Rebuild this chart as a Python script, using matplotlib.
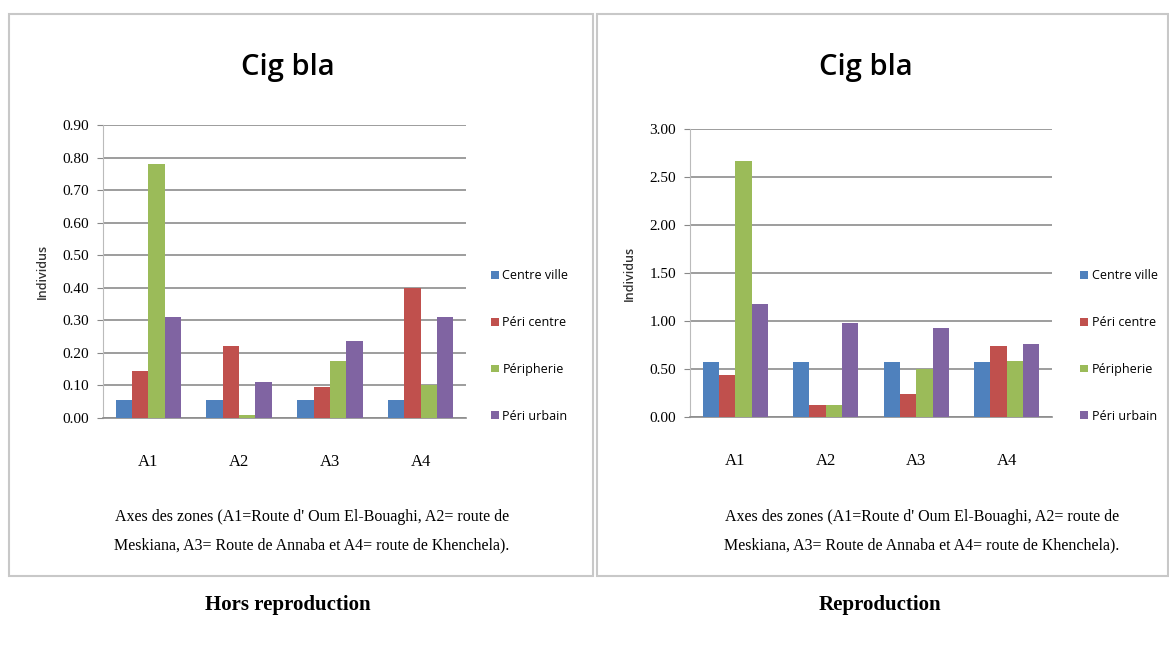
import matplotlib
matplotlib.use("Agg")
import matplotlib.pyplot as plt
import numpy as np
from matplotlib.patches import Rectangle

categories = ["A1", "A2", "A3", "A4"]
series_names = ["Centre ville", "Péri centre", "Péripherie", "Péri urbain"]
colors = ["#4F81BD", "#C0504D", "#9BBB59", "#8064A2"]

hors_centre_ville = [0.055, 0.055, 0.055, 0.055]
hors_peri_centre = [0.145, 0.22, 0.095, 0.40]
hors_peripherie = [0.78, 0.01, 0.175, 0.10]
hors_peri_urbain = [0.31, 0.11, 0.235, 0.31]

repro_centre_ville = [0.57, 0.57, 0.57, 0.57]
repro_peri_centre = [0.44, 0.12, 0.24, 0.74]
repro_peripherie = [2.67, 0.12, 0.50, 0.58]
repro_peri_urbain = [1.18, 0.98, 0.93, 0.76]

hors_ticks = [0.0, 0.1, 0.2, 0.3, 0.4, 0.5, 0.6, 0.7, 0.8, 0.9]
repro_ticks = [0.0, 0.5, 1.0, 1.5, 2.0, 2.5, 3.0]

title = "Cig bla"
ylabel = "Individus"
xlabel = "Axes des zones (A1=Route d' Oum El-Bouaghi, A2= route de\nMeskiana, A3= Route de Annaba et A4= route de Khenchela)."
captions = ["Hors reproduction", "Reproduction"]

W, H = 1169, 646
fig = plt.figure(figsize=(W / 100, H / 100), dpi=100)

def fx(px):
    return px / W

def fy(py):
    return 1 - py / H

# panel borders
for (x0, x1) in [(9, 593), (597, 1168)]:
    fig.add_artist(Rectangle((fx(x0), fy(576)), fx(x1 - x0), (576 - 14) / H,
                             transform=fig.transFigure, fill=False,
                             edgecolor="#c8c8c8", linewidth=1.5))

def panel(rect, data, ticks, title_x, legend_x, xlabel_xy, caption, cap_x, fmt):
    ax = fig.add_axes(rect)
    n = len(data)
    width = 0.18
    x = np.arange(len(categories))
    for i, (vals, c, name) in enumerate(zip(data, colors, series_names)):
        ax.bar(x + (i - (n - 1) / 2) * width, vals, width, color=c, label=name, zorder=3)
    ax.set_xlim(-0.5, len(categories) - 0.5)
    ax.set_ylim(ticks[0], ticks[-1])
    ax.set_yticks(ticks)
    ax.set_yticklabels([fmt.format(t) for t in ticks], family="Liberation Serif", fontsize=11)
    ax.set_xticks(x)
    ax.set_xticklabels(categories, family="Liberation Serif", fontsize=12)
    ax.tick_params(axis="x", length=0, pad=26)
    ax.tick_params(axis="y", length=4, color="#888888", pad=6)
    ax.grid(axis="y", color="#8c8c8c", linewidth=1.2, zorder=0)
    for s in ["top", "right"]:
        ax.spines[s].set_visible(False)
    ax.spines["left"].set_color("#bbbbbb")
    ax.spines["bottom"].set_color("#8c8c8c")
    ax.spines["bottom"].set_linewidth(1.2)
    ax.set_ylabel(ylabel, family="Open Sans", fontsize=9, labelpad=10,
                  color="#333333", fontweight="semibold")
    fig.text(fx(title_x), fy(68), title, family="Open Sans", fontsize=21,
             ha="center", va="center", fontweight="semibold")
    ax.legend(loc="center left", bbox_to_anchor=(fx(legend_x), fy(346)),
              bbox_transform=fig.transFigure, frameon=False,
              prop={"family": "Open Sans", "size": 9}, handlelength=0.6,
              handleheight=0.6, handletextpad=0.3, labelspacing=2.7)
    fig.text(fx(xlabel_xy[0]), fy(xlabel_xy[1]), xlabel, family="Liberation Serif",
             fontsize=11.5, ha="center", va="center", linespacing=2.0)
    fig.text(fx(cap_x), fy(605), caption,
             family="Liberation Serif", fontsize=15, fontweight="bold",
             ha="center", va="center")
    return ax

panel([fx(103), fy(418), fx(466 - 103), (418 - 125) / H],
      [hors_centre_ville, hors_peri_centre, hors_peripherie, hors_peri_urbain],
      hors_ticks, 288, 480, (312, 531), captions[0], 288, "{:.2f}")
panel([fx(690), fy(417), fx(1052 - 690), (417 - 129) / H],
      [repro_centre_ville, repro_peri_centre, repro_peripherie, repro_peri_urbain],
      repro_ticks, 866, 1069, (922, 531), captions[1], 880, "{:.2f}")

fig.savefig("out.png", dpi=100, facecolor="white")
